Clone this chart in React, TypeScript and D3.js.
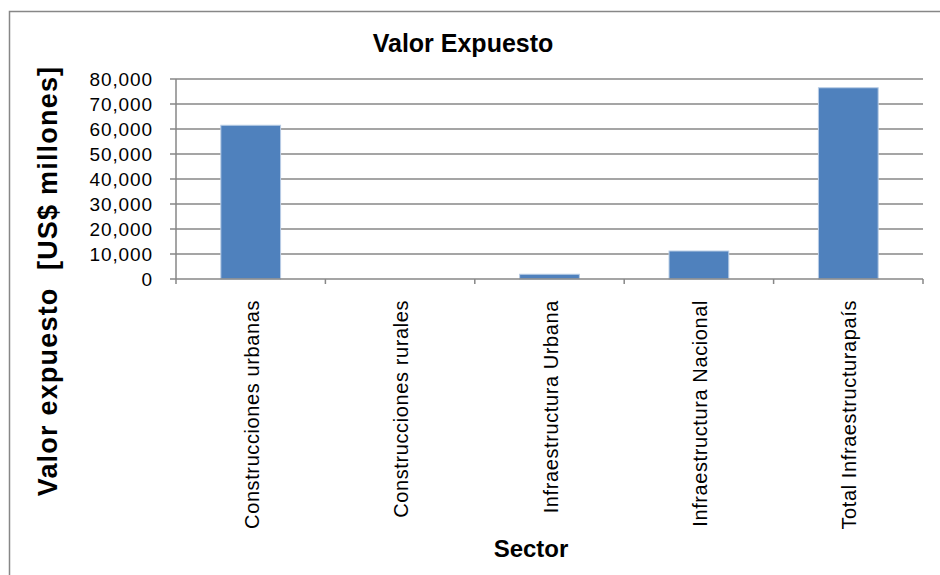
import React from "react";
import * as d3 from "d3";

const categories = [
  "Construcciones urbanas",
  "Construcciones rurales",
  "Infraestructura Urbana",
  "Infraestructura Nacional",
  "Total Infraestructurapaís",
];
const values = [61500, 0, 1900, 11200, 76500];
const yTicks = [0, 10000, 20000, 30000, 40000, 50000, 60000, 70000, 80000];
const title = "Valor Expuesto";
const yTitle = "Valor expuesto  [US$ millones]";
const xTitle = "Sector";

const W = 940;
const H = 575;
const left = 176;
const right = 923;
const top = 79;
const bottom = 279;

export default function App() {
  const x = d3.scaleBand<string>().domain(categories).range([left, right]).paddingInner(0).paddingOuter(0);
  const y = d3.scaleLinear().domain([0, 80000]).range([bottom, top]);
  const fmt = d3.format(",");
  const bw = x.bandwidth();
  const barW = bw / 2.5;
  const grid = "#878787";
  const font = "Liberation Sans, Arial, sans-serif";
  const boundaries = d3.range(categories.length + 1).map((i) => left + i * bw);

  return (
    <svg width={W} height={H} style={{ position: "absolute", left: 0, top: 0, background: "#fff" }} fontFamily={font}>
      <rect x={9.5} y={11.5} width={W} height={H} fill="#fff" stroke={grid} strokeWidth={1.5} />
      <text x={463} y={52} textAnchor="middle" fontSize={25} fontWeight="bold" fill="#000">{title}</text>
      {yTicks.map((t) => (
        <g key={t}>
          {t > 0 && <line x1={left} x2={right} y1={y(t)} y2={y(t)} stroke={grid} strokeWidth={1.5} />}
          <line x1={170} x2={left} y1={y(t)} y2={y(t)} stroke={grid} strokeWidth={1.5} />
          <text x={153} y={y(t)} dy="0.36em" textAnchor="end" fontSize={19} letterSpacing={0.9} fill="#000">{fmt(t)}</text>
        </g>
      ))}
      {categories.map((c, i) => {
        const cx = (x(c) as number) + bw / 2;
        const v = values[i];
        return (
          <g key={c}>
            {v > 0 && (
              <rect x={cx - barW / 2} y={y(v)} width={barW} height={y(0) - y(v)} fill="#4F81BD" stroke="#B9CDE5" strokeWidth={1} />
            )}
            <text
              transform={`translate(${cx + 8},300) rotate(-90)`}
              textAnchor="end"
              fontSize={20}
              letterSpacing={0.6}
              fill="#000"
            >
              {c}
            </text>
          </g>
        );
      })}
      <line x1={left} x2={left} y1={top} y2={bottom} stroke={grid} strokeWidth={1.5} />
      <line x1={left} x2={right} y1={bottom} y2={bottom} stroke={grid} strokeWidth={1.5} />
      {boundaries.map((b, i) => (
        <line key={i} x1={b} x2={b} y1={bottom} y2={bottom + 5} stroke={grid} strokeWidth={1.5} />
      ))}
      <text x={531} y={557} textAnchor="middle" fontSize={24} fontWeight="bold" fill="#000">{xTitle}</text>
      <text
        transform={`translate(57,281) rotate(-90)`}
        textAnchor="middle"
        fontSize={27}
        fontWeight="bold"
        letterSpacing={1.2}
        style={{ whiteSpace: "pre" }}
        fill="#000"
      >
        {yTitle}
      </text>
    </svg>
  );
}
